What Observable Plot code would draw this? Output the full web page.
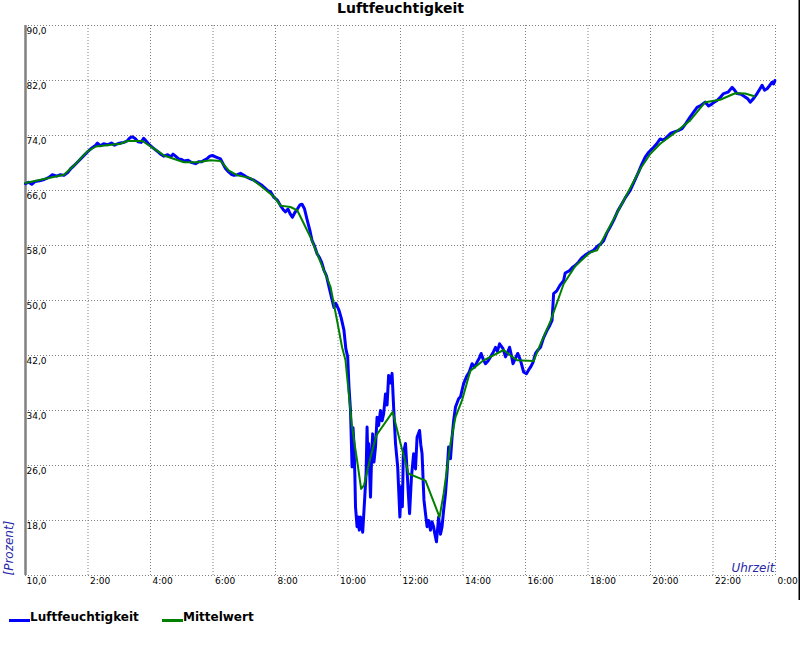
<!DOCTYPE html>
<html>
<head>
<meta charset="utf-8">
<script src="https://cdn.jsdelivr.net/npm/d3@7"></script>
<script src="https://cdn.jsdelivr.net/npm/@observablehq/plot@0.6"></script>
<style>
  html, body { margin: 0; padding: 0; background: white; overflow: hidden; }
  #wrap { position: relative; width: 800px; height: 650px; background: white; font-family: "DejaVu Sans", sans-serif; }
  #chart { position: absolute; left: 0; top: 0; }
  #legend { position: absolute; left: 0; top: 600px; width: 800px; height: 50px; font: bold 12px "DejaVu Sans", sans-serif; color: #000; }
  .sw { position: absolute; top: 18.5px; width: 21px; height: 3px; }
  .lt { position: absolute; top: 10px; line-height: 14px; white-space: nowrap; }
</style>
</head>
<body>
<div id="wrap">
  <div id="chart"></div>
  <div id="legend">
    <span class="sw" style="left:9px;background:#0000ff"></span>
    <span class="lt" style="left:30px">Luftfeuchtigkeit</span>
    <span class="sw" style="left:162px;background:#008000"></span>
    <span class="lt" style="left:183px">Mittelwert</span>
  </div>
</div>
<script>
// ---- data ----
const chartTitle = "Luftfeuchtigkeit";
const yAxisLabel = "[Prozent]";
const xAxisLabel = "Uhrzeit";
const seriesNames = ["Luftfeuchtigkeit", "Mittelwert"];

const yTicks = [10, 18, 26, 34, 42, 50, 58, 66, 74, 82, 90];
const xTicks = [2, 4, 6, 8, 10, 12, 14, 16, 18, 20, 22, 24];
const xTickLabels = ["2:00", "4:00", "6:00", "8:00", "10:00", "12:00", "14:00", "16:00", "18:00", "20:00", "22:00", "0:00"];

// Luftfeuchtigkeit (hour of day, percent)
const humHours = [
  0, 0.1, 0.2, 0.3, 0.45, 0.6, 0.75, 0.86, 1.0, 1.12, 1.23, 1.35, 1.45, 1.55, 1.7, 1.85, 1.98,
  2.1, 2.24, 2.3, 2.4, 2.5, 2.62, 2.75, 2.85, 2.95, 3.04, 3.15, 3.25, 3.35, 3.42, 3.5, 3.6, 3.7, 3.78, 3.84, 3.95,
  4.11, 4.25, 4.35, 4.43, 4.55, 4.65, 4.72, 4.8, 4.9, 5.0, 5.07, 5.2, 5.3, 5.44, 5.55, 5.65, 5.71, 5.8, 5.9, 5.98,
  6.08, 6.18, 6.24, 6.32, 6.4, 6.5, 6.6, 6.67, 6.78, 6.88, 6.99, 7.1, 7.2, 7.31, 7.45, 7.55, 7.63, 7.75, 7.84, 7.95,
  8.06, 8.16, 8.25, 8.32, 8.4, 8.47, 8.54, 8.62, 8.7, 8.78, 8.85, 8.93, 9.02, 9.1, 9.17, 9.25, 9.33, 9.4, 9.48,
  9.55, 9.63, 9.71, 9.8, 9.87, 9.93, 10.03, 10.1, 10.19, 10.25, 10.31, 10.35, 10.4, 10.45, 10.48, 10.51, 10.54,
  10.56, 10.61, 10.65, 10.68, 10.72, 10.76, 10.79, 10.85, 10.9, 10.93, 10.96, 10.98, 11.04, 11.08, 11.11, 11.15,
  11.2, 11.25, 11.3, 11.36, 11.41, 11.46, 11.52, 11.57, 11.62, 11.68, 11.73, 11.78, 11.84, 11.91, 11.98, 12.02,
  12.06, 12.09, 12.16, 12.21, 12.25, 12.29, 12.35, 12.42, 12.48, 12.53, 12.61, 12.65, 12.69, 12.75, 12.8, 12.85,
  12.9, 12.96, 13.01, 13.06, 13.1, 13.15, 13.22, 13.28, 13.33, 13.38, 13.44, 13.49, 13.54, 13.6, 13.65, 13.7,
  13.76, 13.86, 13.92, 14.02, 14.13, 14.2, 14.29, 14.37, 14.45, 14.52, 14.58, 14.65, 14.72, 14.8, 14.88, 14.96,
  15.04, 15.1, 15.17, 15.28, 15.36, 15.43, 15.49, 15.55, 15.6, 15.68, 15.75, 15.84, 15.94, 16.03, 16.1, 16.16,
  16.24, 16.32, 16.4, 16.48, 16.58, 16.69, 16.78, 16.85, 16.9, 17.0, 17.1, 17.22, 17.27, 17.4, 17.5, 17.59, 17.7,
  17.8, 17.91, 18.05, 18.18, 18.3, 18.4, 18.5, 18.6, 18.7, 18.82, 18.95, 19.09, 19.2, 19.35, 19.5, 19.62, 19.72,
  19.83, 19.95, 20.1, 20.2, 20.31, 20.42, 20.53, 20.64, 20.74, 20.88, 21.01, 21.14, 21.27, 21.38, 21.49, 21.62,
  21.75, 21.86, 21.97, 22.05, 22.13, 22.24, 22.34, 22.48, 22.61, 22.69, 22.77, 22.9, 23.03, 23.12, 23.19, 23.3,
  23.41, 23.49, 23.57, 23.65, 23.73, 23.8, 23.89, 23.94, 23.98
];
const humValues = [
  67.0, 67.2, 66.9, 67.3, 67.4, 67.6, 67.9, 68.3, 68.1, 68.3, 68.2, 68.6, 69.2, 69.6, 70.3, 71.0, 71.6,
  72.1, 72.55, 72.9, 72.5, 72.8, 72.65, 72.9, 72.6, 72.8, 72.9, 73.0, 73.2, 73.7, 73.8, 73.6, 73.1, 73.0, 73.6, 73.3, 72.7,
  72.1, 71.6, 71.2, 71.0, 71.2, 70.9, 71.3, 71.0, 70.6, 70.5, 70.3, 70.4, 70.1, 69.9, 70.2, 70.2, 70.4, 70.6, 71.0, 71.1,
  70.9, 70.7, 70.6, 69.9, 69.2, 68.7, 68.3, 68.2, 68.3, 68.5, 68.2, 67.9, 67.7, 67.5, 67.1, 66.8, 66.5, 66.0, 65.8, 65.0,
  64.6, 63.8, 63.2, 62.9, 63.3, 62.6, 62.1, 62.8, 63.3, 63.9, 64.0, 63.3, 61.6, 60.2, 58.7, 57.9, 56.8, 56.3, 55.5,
  54.4, 53.6, 52.0, 50.3, 49.0, 49.6, 48.6, 47.5, 45.7, 43.0, 41.8, 37.5, 34.0, 25.8, 31.5, 29.2, 24.5,
  20.0, 17.1, 18.5, 16.6, 18.5, 17.2, 16.3, 20.9, 25.0, 31.6, 26.0, 29.2, 21.4, 28.0, 30.6, 26.5,
  28.7, 33.0, 31.8, 34.0, 32.5, 33.5, 36.4, 34.8, 39.1, 38.0, 39.4, 34.5, 29.2, 25.8, 18.5, 22.9,
  20.0, 27.7, 29.2, 25.3, 22.0, 19.0, 24.3, 27.7, 25.5, 30.1, 31.1, 29.0, 27.7, 21.0, 19.0, 17.1,
  18.0, 16.6, 17.8, 17.1, 16.0, 14.9, 18.5, 16.0, 17.1, 19.5, 21.9, 25.0, 28.7, 27.0, 30.1, 32.5,
  34.5, 35.7, 36.0, 37.9, 39.1, 39.6, 40.8, 40.3, 41.05, 41.6, 42.3, 41.4, 40.8, 41.2, 41.8, 42.4,
  43.2, 42.6, 43.7, 43.0, 41.8, 42.5, 43.2, 42.0, 40.8, 41.6, 42.3, 41.3, 39.6, 39.35, 39.9, 40.3,
  41.0, 42.3, 42.8, 43.2, 44.6, 45.65, 46.4, 47.1, 51.0, 51.4, 52.2, 52.9, 54.0, 54.3, 54.8, 55.1, 55.6,
  56.2, 56.6, 57.0, 57.3, 57.9, 58.2, 58.7, 59.8, 60.6, 61.65, 63.0, 64.1, 65.0, 66.0, 67.5, 68.7, 69.8,
  70.85, 71.6, 72.3, 72.8, 73.5, 73.3, 73.8, 74.3, 74.5, 74.7, 75.0, 75.8, 76.7, 77.4, 78.1, 78.4,
  78.85, 78.3, 78.6, 78.9, 79.1, 79.6, 80.1, 80.3, 81.0, 80.6, 80.1, 80.0, 79.6, 79.3, 78.85, 79.4,
  80.1, 80.7, 81.3, 80.6, 80.8, 81.2, 81.75, 81.5, 82.0
];

// Mittelwert (hour of day, percent)
const meanHours = [
  0, 1.23, 1.61, 1.98, 2.25, 3.04, 3.26, 3.74, 4.11, 4.43, 5.07, 5.5, 5.92, 6.24, 6.51, 6.78, 7.2, 7.52, 7.95,
  8.16, 8.48, 8.7, 9.12, 9.76, 9.97, 10.13, 10.24, 10.45, 10.61, 10.74, 10.83, 11.04, 11.23, 11.75, 12.0, 12.26,
  12.8, 12.96, 13.25, 13.38, 13.6, 13.76, 13.97, 14.18, 14.24, 14.66, 15.3, 15.52, 15.74, 16.26, 16.48, 16.8,
  17.22, 17.59, 18.07, 18.29, 19.25, 19.68, 19.99, 20.31, 20.74, 21.27, 21.75, 22.23, 22.71, 23.03, 23.32
];
const meanValues = [
  67.1, 68.3, 69.9, 71.7, 72.4, 72.8, 73.2, 73.2, 72.1, 71.1, 70.1, 70.1, 70.4, 70.3, 68.9, 68.2, 67.8, 66.7, 65.1,
  63.8, 63.6, 63.1, 59.2, 52.0, 47.1, 43.2, 41.3, 31.6, 26.75, 22.6, 23.1, 27.2, 30.4, 33.8, 29.2, 24.8,
  23.8, 21.9, 18.5, 21.9, 29.2, 33.05, 35.5, 38.9, 39.8, 41.3, 42.8, 42.0, 41.3, 41.2, 43.7, 47.0,
  52.4, 55.0, 57.0, 57.3, 65.5, 69.2, 71.3, 72.8, 74.25, 76.2, 78.85, 79.2, 80.15, 80.1, 79.7
];

// ---- build ----
const hum = humHours.map((h, i) => ({h, v: humValues[i]}));
const mean = meanHours.map((h, i) => ({h, v: meanValues[i]}));
const fmtY = d => d3.format(".1f")(d).replace(".", ",");
const grid = "#808080";
const axisBlue = "#2828a8";

const plot = Plot.plot({
  width: 800,
  height: 600,
  marginLeft: 25,
  marginRight: 25,
  marginTop: 25,
  marginBottom: 25,
  style: {fontFamily: "DejaVu Sans, sans-serif", fontSize: "9px", background: "white"},
  x: {domain: [0, 24], axis: null},
  y: {domain: [10, 90], axis: null},
  marks: [
    Plot.ruleY(yTicks, {stroke: grid, strokeWidth: 1, strokeDasharray: "1,2"}),
    Plot.ruleX(xTicks, {stroke: grid, strokeWidth: 1, strokeDasharray: "1,2"}),
    Plot.ruleX([0], {stroke: "#808080", strokeWidth: 2.5}),
    Plot.ruleX([24], {dx: 24, stroke: "black", strokeWidth: 2, insetTop: -25, insetBottom: -25}),
    Plot.text(yTicks, {x: 0, y: d => d, text: fmtY, textAnchor: "start", lineAnchor: "top", dx: 1, dy: 2, fontSize: 9, fill: "black"}),
    Plot.text(xTicks, {x: d => d, y: 10, text: (d, i) => xTickLabels[i], textAnchor: "start", lineAnchor: "top", dx: 2, dy: 2, fontSize: 9, fill: "black"}),
    Plot.text([xAxisLabel], {frameAnchor: "bottom-right", textAnchor: "end", lineAnchor: "top", dx: -1, dy: -12, fontSize: 12, fontStyle: "italic", fill: axisBlue}),
    Plot.text([yAxisLabel], {frameAnchor: "bottom-left", textAnchor: "start", lineAnchor: "top", rotate: -90, dx: -21.5, dy: 0, fontSize: 12, fontStyle: "italic", fill: axisBlue}),
    Plot.text([chartTitle], {frameAnchor: "top", lineAnchor: "top", dy: -22, fontSize: 14, fontWeight: "bold", fill: "black"}),
    Plot.line(hum, {x: "h", y: "v", stroke: "#0000ff", strokeWidth: 3}),
    Plot.line(mean, {x: "h", y: "v", stroke: "#008000", strokeWidth: 2})
  ]
});
document.getElementById("chart").appendChild(plot);
</script>
</body>
</html>
